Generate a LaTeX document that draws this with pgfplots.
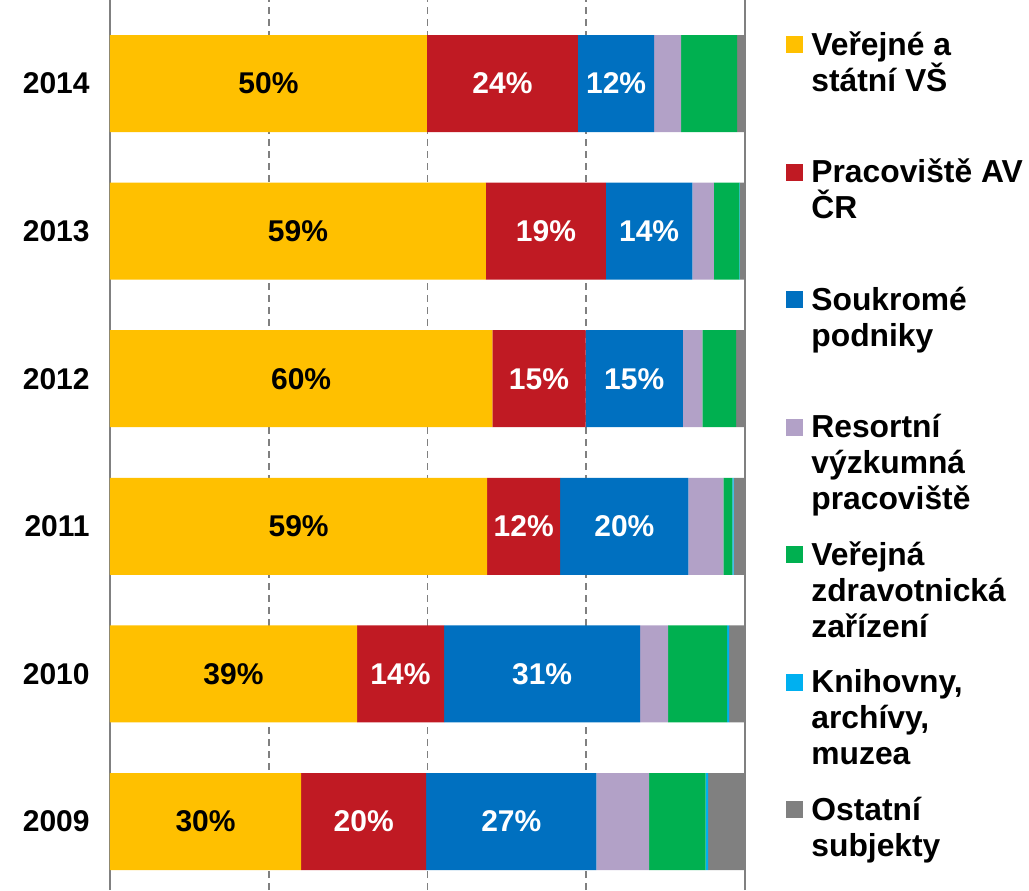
\documentclass[border=0pt]{standalone}
\usepackage{fontspec}
\setmainfont{Liberation Sans}
\usepackage{pgfplots}
\usepackage{pgfplotstable}
\pgfplotsset{compat=1.18}

\definecolor{cVS}{HTML}{FFC000}
\definecolor{cAV}{HTML}{C01A23}
\definecolor{cPod}{HTML}{0070C0}
\definecolor{cRes}{HTML}{B2A1C7}
\definecolor{cZdr}{HTML}{00B050}
\definecolor{cKni}{HTML}{00B0F0}
\definecolor{cOst}{HTML}{808080}

% shares in % per year (y: 0 = 2009 ... 5 = 2014); la/lb/lc = printed labels
\pgfplotstableread{
y a b c d e f g la lb lc
5 49.9 23.8 12.0 4.25 8.8 0 1.25 50 24 12
4 59.2 18.9 13.6 3.4 4.0 0.1 0.8 59 19 14
3 60.2 14.7 15.3 3.1 5.3 0 1.4 60 15 15
2 59.4 11.5 20.2 5.5 1.4 0.2 1.8 59 12 20
1 38.9 13.7 30.9 4.4 9.3 0.3 2.5 39 14 31
0 30.1 19.7 26.8 8.3 8.9 0.4 5.8 30 20 27
}\shares

\newcommand\bigbf{\bfseries\fontsize{15}{18}\selectfont}
\newcommand\legbf{\bfseries\fontsize{15.9}{18}\selectfont}
\newcommand\legtxt[1]{\parbox[t]{118pt}{\raggedright#1}}

\pgfplotsset{
  sq/.style={legend image code/.code={\fill[##1] (0pt,1pt) rectangle (8.5pt,9.5pt);}},
  % with anchor=center the stacked labels already sit in the middle of each segment
  lab/.style={
    nodes near coords={\pgfplotspointmeta\%},
    point meta=explicit symbolic,
    every node near coord/.style={anchor=center, font=\bigbf, text=#1},
  },
}

\begin{document}
\begin{tikzpicture}
\begin{axis}[
  name=ax,
  scale only axis,
  width=317.5pt, height=445pt,
  xbar stacked,
  bar width=0.657,
  xmin=0, xmax=100,
  ymin=-0.464, ymax=5.566,
  ytick={0,1,2,3,4,5},
  yticklabels={2009,2010,2011,2012,2013,2014},
  yticklabel style={font=\bigbf, inner sep=0pt, xshift=-10pt},
  xtick={25,50,75}, xticklabels={},
  xmajorgrids,
  major grid style={draw=gray, line width=0.8pt, dash pattern=on 3.5pt off 2.5pt},
  extra x ticks={0,100}, extra x tick labels={},
  extra x tick style={xmajorgrids=true, major grid style={draw=gray, line width=0.8pt, solid}},
  major tick length=0pt,
  axis line style={draw=none},
  legend style={draw=none, fill=none, at={(1,1)}, anchor=north west,
    xshift=20.5pt, yshift=-13.5pt, inner sep=0pt, row sep=49.75pt, column sep=4pt,
    font=\legbf, cells={anchor=base west},
    nodes={inner sep=0pt, text height=14pt, text depth=0pt}},
]
\addplot[fill=cVS, draw=none, lab=black, sq]
  table[x=a, y=y, meta=la] {\shares};
\addplot[fill=cAV, draw=none, lab=white, sq]
  table[x=b, y=y, meta=lb] {\shares};
\addplot[fill=cPod, draw=none, lab=white, sq]
  table[x=c, y=y, meta=lc] {\shares};
\addplot[fill=cRes, draw=none, sq] table[x=d, y=y] {\shares};
\addplot[fill=cZdr, draw=none, sq] table[x=e, y=y] {\shares};
\addplot[fill=cKni, draw=none, sq] table[x=f, y=y] {\shares};
\addplot[fill=cOst, draw=none, sq] table[x=g, y=y] {\shares};
\addlegendentry{\legtxt{Veřejné a\\státní VŠ}}
\addlegendentry{\legtxt{Pracoviště AV\\ČR}}
\addlegendentry{\legtxt{Soukromé\\podniky}}
\addlegendentry{\legtxt{Resortní\\výzkumná\\pracoviště}}
\addlegendentry{\legtxt{Veřejná\\zdravotnická\\zařízení}}
\addlegendentry{\legtxt{Knihovny,\\archívy,\\muzea}}
\addlegendentry{\legtxt{Ostatní\\subjekty}}
\end{axis}
\pgfresetboundingbox
\path ([xshift=-55pt]ax.south west) rectangle ([xshift=142pt]ax.north east);
\end{tikzpicture}
\end{document}
